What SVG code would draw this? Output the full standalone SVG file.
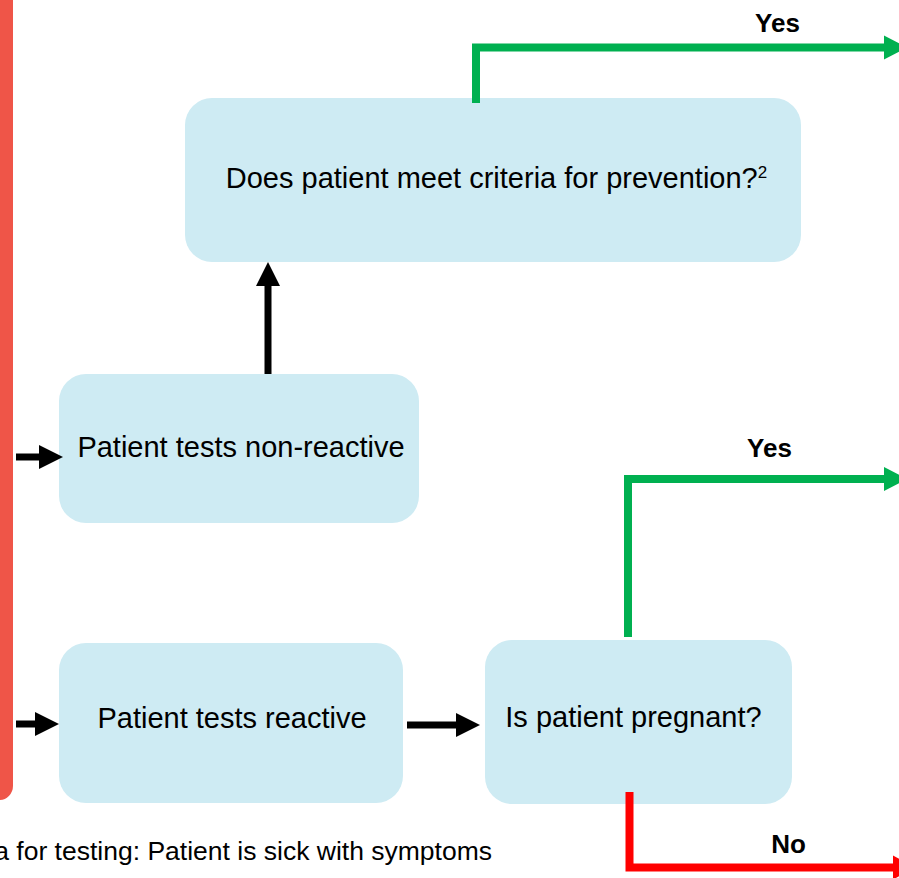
<svg xmlns="http://www.w3.org/2000/svg" width="899" height="878" viewBox="0 0 899 878">
<style>
.node rect{fill:#CEEBF3}
.ntext{font-family:"Liberation Sans",Arial,sans-serif;font-size:29px;fill:#000;text-anchor:middle}
.lbl{font-family:"Liberation Sans",Arial,sans-serif;font-size:26px;font-weight:bold;fill:#000;text-anchor:middle}
.note{font-family:"Liberation Sans",Arial,sans-serif;font-size:26.5px;fill:#000;text-anchor:end}
.blk{stroke:#000;stroke-width:7;fill:none}
.grn{stroke:#00B050;stroke-width:8;fill:none;stroke-linejoin:miter}
.red{stroke:#FF0000;stroke-width:8;fill:none;stroke-linejoin:miter}
</style>
<defs>
<marker id="ab" markerUnits="userSpaceOnUse" markerWidth="24" markerHeight="24" refX="0" refY="12" orient="auto" overflow="visible"><path d="M0,0 L24,12 L0,24 z" fill="#000"/></marker>
<marker id="ag" markerUnits="userSpaceOnUse" markerWidth="24" markerHeight="24" refX="0" refY="12" orient="auto" overflow="visible"><path d="M0,0 L23,12 L0,24 z" fill="#00B050"/></marker>
<marker id="ar" markerUnits="userSpaceOnUse" markerWidth="24" markerHeight="24" refX="0" refY="12" orient="auto" overflow="visible"><path d="M0,0 L23,12 L0,24 z" fill="#FF0000"/></marker>
</defs>
<rect x="-30" y="-30" width="43" height="830" rx="14" fill="#EF5548"/>
<g id="node-prevention" class="node">
<rect x="185" y="98" width="616" height="164" rx="27"/>
<text class="ntext" x="496.5" y="188">Does patient meet criteria for prevention?<tspan font-size="17" dy="-10">2</tspan></text>
</g>
<g id="node-nonreactive" class="node">
<rect x="59" y="374" width="360" height="149" rx="27"/>
<text class="ntext" x="241" y="457">Patient tests non-reactive</text>
</g>
<g id="node-reactive" class="node">
<rect x="59" y="643" width="344" height="160" rx="27"/>
<text class="ntext" x="232" y="728">Patient tests reactive</text>
</g>
<g id="node-pregnant" class="node">
<rect x="485" y="640" width="307" height="164" rx="27"/>
<text class="ntext" x="633.5" y="727">Is patient pregnant?</text>
</g>
<g id="connectors">
<line class="blk" x1="268" y1="374" x2="268" y2="286" marker-end="url(#ab)"/>
<line class="blk" x1="16" y1="457" x2="39" y2="457" marker-end="url(#ab)"/>
<line class="blk" x1="16" y1="724" x2="35" y2="724" marker-end="url(#ab)"/>
<line class="blk" x1="407" y1="725" x2="456" y2="725" marker-end="url(#ab)"/>
<path class="grn" d="M476,103 V47.5 H884" marker-end="url(#ag)"/>
<path class="grn" d="M628,637 V479 H884" marker-end="url(#ag)"/>
<path class="red" d="M629.5,792 V867.5 H893" marker-end="url(#ar)"/>
<text class="lbl" x="777.5" y="32">Yes</text>
<text class="lbl" x="769.5" y="457">Yes</text>
<text class="lbl" x="788.5" y="853">No</text>
</g>
<text class="note" x="492" y="860">a for testing: Patient is sick with symptoms</text>
</svg>
